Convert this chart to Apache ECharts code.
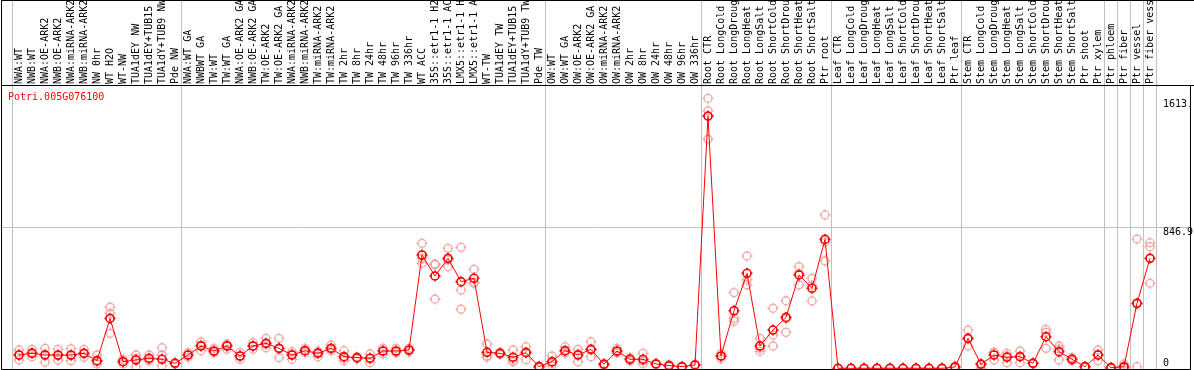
<!DOCTYPE html>
<html><head><meta charset="utf-8">
<script src="https://cdn.jsdelivr.net/npm/echarts@6/dist/echarts.min.js"></script>
<style>html,body{margin:0;padding:0;background:#fff}#c{width:1194px;height:370px}</style>
</head><body><div id="c"></div><script>
const geneName = 'Potri.005G076100';
const categories = [
 'NWA:WT','NWB:WT','NWA:OE-ARK2','NWB:OE-ARK2','NWA:miRNA-ARK2','NWB:miRNA-ARK2','NW 0hr','WT H2O','WT-NW','TUA1dEY NW','TUA1dEY+TUB15 NW','TUA1dY+TUB9 NW','Pde NW',
 'NWA:WT GA','NWBWT GA','TW:WT','TW:WT GA','NWA:OE-ARK2 GA','NWB:OE-ARK2 GA','TW:OE-ARK2','TW:OE-ARK2 GA','NWA:miRNA-ARK2 GA','NWB:miRNA-ARK2 GA','TW:miRNA-ARK2','TW:miRNA-ARK2 GA',
 'TW 2hr','TW 8hr','TW 24hr','TW 48hr','TW 96hr','TW 336hr','WT ACC','35S::etr1-1 H2O','35S::etr1-1 ACC','LMX5::etr1-1 H2O','LMX5::etr1-1 ACC','WT-TW','TUA1dEY TW','TUA1dEY+TUB15 TW','TUA1dY+TUB9 TW','Pde TW',
 'OW:WT','OW:WT GA','OW:OE-ARK2','OW:OE-ARK2 GA','OW:miRNA-ARK2','OW:miRNA-ARK2 GA','OW 2hr','OW 8hr','OW 24hr','OW 48hr','OW 96hr','OW 336hr',
 'Root CTR','Root LongCold','Root LongDrought','Root LongHeat','Root LongSalt','Root ShortCold','Root ShortDrought','Root ShortHeat','Root ShortSalt','Ptr root',
 'Leaf CTR','Leaf LongCold','Leaf LongDrought','Leaf LongHeat','Leaf LongSalt','Leaf ShortCold','Leaf ShortDrought','Leaf ShortHeat','Leaf ShortSalt','Ptr leaf',
 'Stem CTR','Stem LongCold','Stem LongDrought','Stem LongHeat','Stem LongSalt','Stem ShortCold','Stem ShortDrought','Stem ShortHeat','Stem ShortSalt','Ptr shoot',
 'Ptr xylem','Ptr phloem','Ptr fiber','Ptr vessel','Ptr fiber vessel'
];
const means = [
 80,90,80,80,80,90,46,300,40,50,60,54,30,
 80,134,104,134,74,134,150,120,80,106,90,120,
 70,64,60,104,104,110,681,555,661,521,541,96,90,66,94,10,
 40,106,80,114,24,104,54,54,26,16,10,20,
 1516,74,346,571,134,230,306,561,481,775,
 0,0,0,0,0,0,0,0,0,8,
 180,24,80,66,70,30,190,100,54,10,
 80,4,10,391,661
];
const rep1 = [
 110,114,120,114,118,114,80,367,54,80,80,124,34,
 94,158,120,146,94,154,180,180,100,120,100,140,
 106,70,86,120,120,120,751,627,721,727,595,146,96,110,130,14,
 74,130,114,160,30,120,64,90,30,22,12,24,
 1623,90,455,675,180,361,406,611,541,922,
 0,0,0,0,0,0,0,0,0,14,
 230,30,94,90,104,34,234,134,64,12,
 110,6,26,777,755
];
const rep2 = [
 80,95,84,76,76,90,40,331,40,60,54,80,26,
 80,140,100,140,74,134,146,116,86,106,100,114,
 60,64,60,106,100,110,661,623,651,471,517,76,90,50,100,10,
 30,100,86,110,24,100,54,44,26,16,10,20,
 1548,74,300,531,120,200,296,571,497,758,
 0,0,0,0,0,0,0,0,0,8,
 176,24,96,74,72,30,216,116,54,10,
 84,4,4,386,731
];
const rep3 = [
 50,70,36,50,46,66,26,210,26,10,44,16,null,
 66,106,94,114,54,114,124,64,54,94,70,106,
 46,56,34,86,94,100,631,415,611,355,511,66,84,40,52,6,
 16,90,40,70,18,92,44,28,22,10,8,16,
 1377,58,283,501,102,134,216,501,405,645,
 0,0,0,0,0,0,0,0,0,2,
 134,0,50,34,34,26,120,50,44,8,
 46,2,0,10,511
];
const yTickValues = [846.9, 1613.8];
const yZeroTick = [0];
const groupBreaks = [0, 13, 41, 53, 63, 73, 84, 85, 86, 87, 88];

const MONO = 'DejaVu Sans Mono';
const SYM = 'path://M0,-4A4,4,0,1,1,0,4A4,4,0,1,1,0,-4ZM0,-5.5L0,-3M0,3L0,5.5M-5.5,0L-3,0M3,0L5.5,0';

const repData = [];
[rep1, rep2, rep3].forEach(r => r.forEach((v, i) => { if (v != null) repData.push([i, v]); }));

const chart = echarts.init(document.getElementById('c'), null, {renderer: 'canvas'});
const yLabelBase = {fontFamily: MONO, fontSize: 10, color: '#000', margin: 6.5, formatter: v => String(v).slice(0, 5)};
const option = {
  animation: false,
  title: {text: geneName, left: 8, top: 92, padding: 0,
    textStyle: {color: '#ff0000', fontFamily: MONO, fontSize: 10, fontWeight: 'normal'}},
  grid: {left: 12.5, width: 1144, top: 85, height: 283.3, outerBoundsMode: 'none', containLabel: false},
  xAxis: [
    {type: 'category', data: categories, position: 'top', boundaryGap: true,
     axisLine: {show: false}, axisTick: {show: false}, splitLine: {show: false},
     axisLabel: {interval: 0, rotate: 90, margin: 1, fontFamily: MONO, fontSize: 10, color: '#000', hideOverlap: false}},
    {type: 'value', min: -0.5, max: categories.length - 0.5, show: false}
  ],
  yAxis: [
    {type: 'value', min: 0, max: 1703, position: 'right', splitLine: {show: false},
     axisLine: {show: false}, axisTick: {show: false},
     axisLabel: Object.assign({customValues: yTickValues, verticalAlign: 'top'}, yLabelBase)},
    {type: 'value', min: 0, max: 1703, position: 'right', splitLine: {show: false},
     axisLine: {show: false}, axisTick: {show: false},
     axisLabel: Object.assign({customValues: yZeroTick, verticalAlign: 'bottom'}, yLabelBase)}
  ],
  series: [
    {type: 'scatter', name: 'replicates', data: repData, xAxisIndex: 0, yAxisIndex: 0,
     symbol: SYM, symbolSize: 11, clip: false, z: 2,
     itemStyle: {color: 'transparent', borderColor: '#ee9595', borderWidth: 1.3}},
    {type: 'line', name: 'mean', data: means, xAxisIndex: 0, yAxisIndex: 0,
     symbol: SYM, symbolSize: 11, showSymbol: true, clip: false, z: 3,
     lineStyle: {color: '#ff0000', width: 1},
     itemStyle: {color: 'transparent', borderColor: '#ff0000', borderWidth: 1.6}}
  ]
};
chart.setOption(option);

const gfx = [];
groupBreaks.forEach(b => {
  const x = Math.round(chart.convertToPixel({xAxisIndex: 1}, b - 0.5)) - 0.5;
  gfx.push({type: 'line', z: 0, silent: true, shape: {x1: x, y1: 0, x2: x, y2: 369},
    style: {stroke: '#c0c0c0', lineWidth: 1}});
});
const yg = Math.round(chart.convertToPixel({yAxisIndex: 0}, 846.9)) + 0.5;
gfx.push({type: 'line', z: 0, silent: true, shape: {x1: 1.5, y1: yg, x2: 1190, y2: yg},
  style: {stroke: '#c0c0c0', lineWidth: 1}});
gfx.push({type: 'line', z: 10, silent: true, shape: {x1: 1.5, y1: 0.5, x2: 1194, y2: 0.5}, style: {stroke: '#000', lineWidth: 1}});
gfx.push({type: 'line', z: 10, silent: true, shape: {x1: 1.5, y1: 85.5, x2: 1194, y2: 85.5}, style: {stroke: '#000', lineWidth: 1}});
gfx.push({type: 'line', z: 10, silent: true, shape: {x1: 1.5, y1: 0, x2: 1.5, y2: 370}, style: {stroke: '#000', lineWidth: 1}});
gfx.push({type: 'line', z: 10, silent: true, shape: {x1: 1190.5, y1: 85, x2: 1190.5, y2: 370}, style: {stroke: '#000', lineWidth: 1}});
gfx.push({type: 'line', z: 10, silent: true, shape: {x1: 1.5, y1: 369.5, x2: 1190.5, y2: 369.5}, style: {stroke: '#000', lineWidth: 1}});
chart.setOption({graphic: gfx});
</script></body></html>
